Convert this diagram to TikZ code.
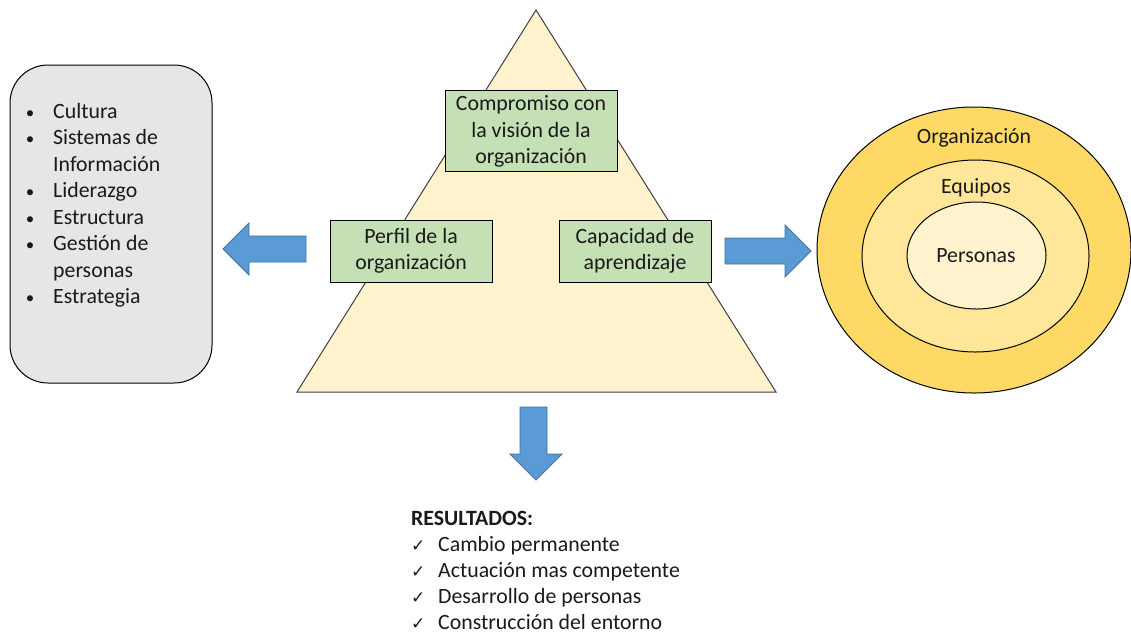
\documentclass[tikz,border=0pt]{standalone}
\usepackage{fontspec}
\setmainfont{Carlito}
\newfontfamily\symfont{DejaVu Sans}
\definecolor{boxgray}{HTML}{E7E6E6}
\definecolor{tri}{HTML}{FFF2CC}
\definecolor{grn}{HTML}{C5E0B4}
\definecolor{arr}{HTML}{5B9BD5}
\definecolor{arrline}{HTML}{41719C}
\definecolor{org}{HTML}{FFD966}
\definecolor{eqp}{HTML}{FFE699}
\definecolor{per}{HTML}{FFF2CC}
\definecolor{txt}{HTML}{1A1A1A}
\tikzset{
  base/.style={font=\fontsize{21.8}{26.5}\selectfont, text=txt},
  greenbox/.style={base, draw=black, line width=1pt, fill=grn, align=center, inner sep=0pt},
  blockarrow/.style={fill=arr, draw=arrline, line width=0.8pt},
  listitem/.style={base, anchor=base west, inner sep=0pt},
  bulletmark/.style={font=\fontsize{17}{17}\selectfont, anchor=base, inner sep=0pt, text=txt},
  checkmark/.style={font=\symfont\fontsize{17}{17}\selectfont, anchor=base west, inner sep=0pt, text=txt},
}
\begin{document}
\begin{tikzpicture}[x=1pt,y=-1pt]
\useasboundingbox (0,0) rectangle (1131,633);
% left rounded box
\draw[fill=boxgray, line width=1pt, rounded corners=38pt] (10,65) rectangle (212,383);
\foreach \yy/\t [count=\i] in {118/Cultura,144.5/Sistemas de,171/Información,197.5/Liderazgo,224/Estructura,250.5/Gestión de,277/personas,303.5/Estrategia}{
  \node[listitem] (li\i) at (53,\yy) {\t};
}
\foreach \yy [count=\i] in {118,144.5,197.5,224,250.5,303.5}{
  \node[bulletmark] (bu\i) at (30,\yy) {\textbullet};
}
% triangle
\draw[fill=tri, draw=black!75, line width=1pt] (536,10) -- (776,392) -- (297,392) -- cycle;
% green boxes
\node[greenbox, minimum width=172pt, minimum height=81pt, text depth=2pt] (comp) at (531,130.5) {Compromiso con\\la visión de la\\organización};
\node[greenbox, minimum width=162pt, minimum height=62pt] (perf) at (411,251) {\raisebox{-2pt}{\begin{tabular}{@{}c@{}}Perfil de la\\[-1pt]organización\end{tabular}}};
\node[greenbox, minimum width=152pt, minimum height=62pt] (cap) at (635,251) {\raisebox{-2pt}{\begin{tabular}{@{}c@{}}Capacidad de\\[-1pt]aprendizaje\end{tabular}}};
% arrows
\draw[blockarrow] (306,236) -- (249,236) -- (249,223) -- (223,249) -- (249,275) -- (249,262) -- (306,262) -- cycle;
\draw[blockarrow] (725,238) -- (785,238) -- (785,225) -- (811,251) -- (785,277) -- (785,264) -- (725,264) -- cycle;
\draw[blockarrow] (520,407) -- (547,407) -- (547,454) -- (562,454) -- (536,480) -- (510,454) -- (520,454) -- cycle;
% circles
\draw[fill=org, line width=1pt] (974,250) ellipse [x radius=157, y radius=143];
\draw[fill=eqp, line width=1pt] (975.5,256) ellipse [x radius=113.5, y radius=96];
\draw[fill=per, line width=1pt] (976.5,255.5) ellipse [x radius=69.5, y radius=53.5];
\node[base] (lorg) at (974,138) {Organización};
\node[base] (leq) at (976,188) {Equipos};
\node[base] (lper) at (976,256) {Personas};
% results
\node[listitem, font=\bfseries\fontsize{21.8}{26.5}\selectfont] (res) at (411,525) {RESULTADOS:};
\foreach \yy/\t [count=\i] in {551/Cambio permanente,577/Actuación mas competente,603/Desarrollo de personas,629/Construcción del entorno}{
  \node[checkmark] (ck\i) at (411,\yy) {✓};
  \node[listitem] (r\i) at (438,\yy) {\t};
}
\end{tikzpicture}
\end{document}
